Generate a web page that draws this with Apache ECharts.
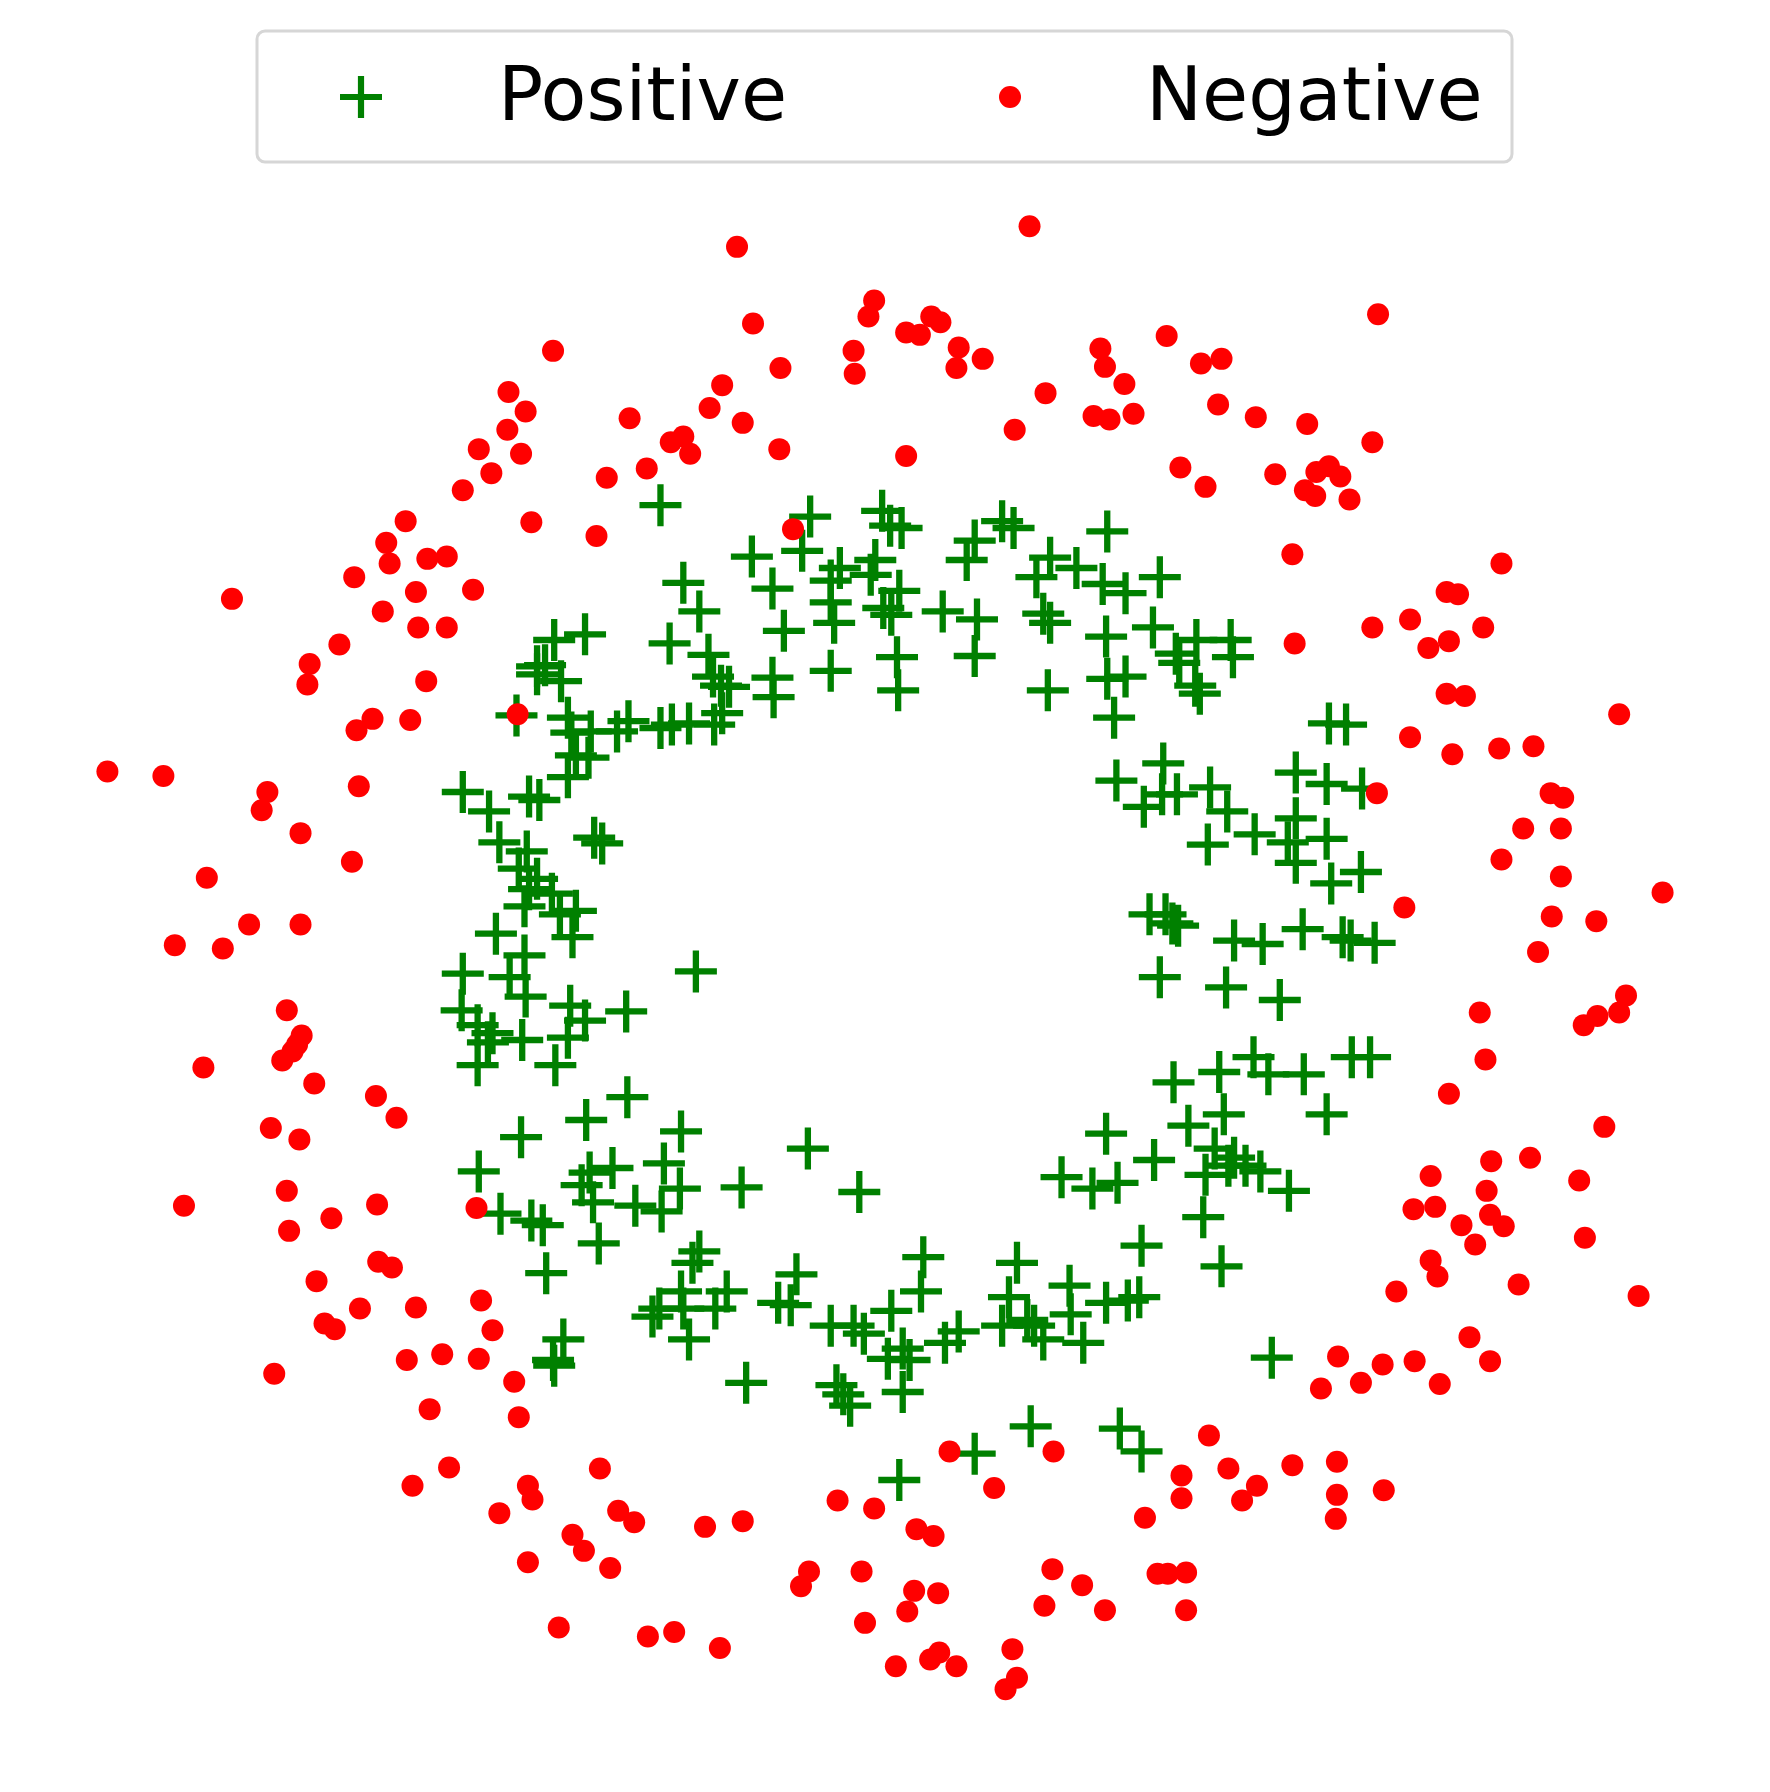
<!DOCTYPE html>
<html>
<head>
<meta charset="utf-8">
<script src="https://cdn.jsdelivr.net/npm/echarts@6/dist/echarts.min.js"></script>
<style>html,body{margin:0;padding:0;background:#fff}#c{width:1770px;height:1792px}</style>
</head>
<body>
<div id="c"></div>
<script>
// Data values (x grows right, y grows downward)
const seriesNames = ['Positive', 'Negative'];
const xRange = [0, 1549];
const yRange = [0, 1568];

const positive = [
[578,442],[709,452],[772,447],[779,460],[789,462],[877,456],[887,462],[969,465],[658,487],[702,482],
[735,497],[727,508],[766,490],[762,503],[846,490],[853,473],[919,488],[907,505],[942,497],[965,511],
[985,519],[1015,505],[598,510],[612,535],[676,515],[727,527],[730,545],[787,517],[773,532],[780,538],
[825,535],[855,542],[913,537],[919,545],[968,557],[1009,549],[1047,560],[1077,560],[1029,572],[1032,580],
[1079,575],[1046,600],[1050,607],[586,563],[620,573],[624,592],[631,600],[638,601],[676,593],[677,610],
[686,552],[727,587],[785,575],[786,604],[853,574],[917,604],[969,594],[985,592],[975,628],[512,555],
[485,560],[470,583],[491,596],[470,590],[477,582],[452,626],[497,628],[500,641],[517,640],[540,640],
[550,631],[578,637],[588,634],[603,633],[625,634],[632,624],[504,661],[515,663],[497,680],[1163,633],
[1178,634],[1018,668],[977,683],[1001,706],[1017,695],[1030,695],[1059,689],[1074,710],[1134,676],[1161,686],
[1192,690],[1057,739],[1098,730],[1134,716],[1127,737],[1161,734],[1134,755],[1165,773],[1191,763],[1006,800],
[1020,800],[1026,808],[1031,810],[1080,823],[1105,826],[1140,813],[1175,820],[1182,823],[1203,825],[1015,855],
[1073,864],[1120,875],[405,693],[428,710],[463,697],[472,700],[437,737],[461,745],[520,733],[527,738],
[454,760],[470,769],[463,778],[483,782],[459,793],[490,800],[504,797],[501,820],[434,817],[459,836],
[405,852],[446,855],[460,872],[404,884],[418,897],[431,904],[427,912],[457,910],[499,880],[512,893],
[497,908],[548,885],[609,850],[486,932],[418,932],[1027,947],[1067,938],[1097,925],[1110,940],[1141,940],
[1183,925],[1199,925],[1161,975],[968,992],[1010,1015],[1040,985],[1071,975],[1063,1005],[1080,1013],[1090,1020],
[1103,1025],[1128,1042],[1075,1020],[1055,1028],[1053,1065],[929,1030],[956,1040],[978,1035],[999,1090],[1069,1108],
[1113,1188],[456,995],[513,980],[549,960],[596,990],[419,1025],[516,1026],[536,1022],[581,1018],[595,1040],
[509,1037],[519,1052],[556,1055],[579,1060],[649,1039],[707,1005],[752,1043],[438,1062],[465,1068],[475,1072],
[524,1088],[478,1114],[612,1095],[606,1105],[636,1130],[596,1130],[577,1145],[571,1152],[598,1145],[626,1145],
[697,1115],[681,1140],[692,1142],[727,1160],[747,1160],[756,1167],[780,1147],[808,1100],[806,1130],[839,1165],
[827,1175],[790,1180],[796,1190],[777,1189],[890,1105],[883,1135],[877,1160],[899,1155],[905,1160],[913,1172],
[936,1125],[937,1150],[968,1140],[987,1138],[997,1135],[948,1175],[603,1172],[493,1172],[484,1190],[485,1195],
[653,1210],[732,1212],[738,1220],[744,1230],[790,1218],[902,1248],[980,1250],[999,1270],[853,1272],[787,1295]
];

const negative = [
[645,216],[901,198],[1206,275],[659,283],[765,263],[760,277],[815,277],[823,282],[793,291],[805,293],
[747,307],[839,304],[860,314],[748,327],[837,322],[683,322],[484,307],[963,305],[967,321],[1021,294],
[1051,318],[1069,314],[984,336],[915,344],[632,337],[621,357],[650,370],[551,366],[445,343],[460,360],
[444,376],[419,393],[456,397],[430,414],[405,429],[587,387],[598,382],[604,397],[566,410],[531,418],
[682,393],[793,399],[888,376],[957,364],[971,367],[992,362],[1066,354],[1099,365],[1144,371],[1201,387],
[1033,409],[1055,426],[1116,415],[1152,413],[1163,408],[1173,417],[1142,429],[1151,434],[1181,437],[1131,485],
[694,463],[522,469],[465,457],[355,456],[338,475],[341,493],[374,489],[391,487],[414,516],[310,505],
[364,518],[335,535],[366,549],[391,549],[203,524],[297,564],[271,581],[269,599],[373,596],[326,629],
[359,630],[312,639],[453,625],[1133,563],[1314,493],[1266,518],[1276,520],[1234,542],[1201,549],[1298,549],
[1250,567],[1268,561],[1266,607],[1282,609],[1417,625],[1234,645],[1271,660],[1312,655],[1342,653],[1205,694],
[1357,694],[1368,698],[1333,725],[1366,725],[1314,752],[1366,767],[1455,781],[1229,794],[1358,802],[1397,806],
[1346,833],[94,675],[143,679],[234,693],[229,709],[314,688],[263,729],[308,754],[181,768],[153,827],
[195,830],[218,809],[263,809],[251,884],[264,906],[260,914],[256,920],[247,928],[178,934],[275,948],
[329,959],[347,978],[237,987],[262,997],[251,1042],[330,1054],[161,1055],[253,1077],[290,1066],[331,1104],
[343,1109],[277,1121],[364,1144],[421,1138],[315,1145],[284,1158],[293,1163],[431,1164],[356,1190],[387,1185],
[419,1189],[240,1202],[450,1209],[376,1233],[454,1240],[417,1057],[1295,886],[1423,871],[1417,886],[1398,889],
[1386,897],[1300,927],[1268,957],[1404,986],[1305,1016],[1339,1013],[1252,1029],[1382,1033],[1301,1042],[1237,1058],
[1256,1056],[1304,1063],[1316,1073],[1279,1072],[1291,1089],[1387,1083],[1252,1103],[1258,1117],[1222,1130],[1329,1124],
[1434,1134],[1286,1170],[1171,1187],[1304,1191],[1260,1211],[1238,1191],[1210,1194],[1191,1210],[1156,1215],[922,1270],
[831,1270],[870,1302],[1058,1256],[1131,1282],[1170,1279],[1075,1285],[1034,1291],[1100,1300],[1170,1308],[1211,1304],
[1087,1313],[1034,1311],[1002,1328],[1169,1329],[393,1284],[361,1300],[525,1285],[462,1300],[466,1312],[437,1324],
[541,1322],[555,1332],[617,1336],[650,1331],[733,1313],[765,1320],[802,1338],[817,1344],[501,1343],[511,1357],
[462,1367],[534,1372],[708,1375],[701,1388],[754,1375],[800,1392],[821,1394],[921,1373],[947,1387],[1013,1377],
[1022,1377],[1038,1376],[914,1405],[967,1409],[1038,1409],[794,1410],[757,1420],[489,1424],[567,1432],[590,1428],
[630,1442],[784,1458],[814,1452],[822,1446],[837,1458],[886,1443],[890,1468],[880,1478]
];

const GREEN = '#008000', RED = '#ff0000';
const plusPath = 'path://M-1.5,-10L1.5,-10L1.5,-1.5L10,-1.5L10,1.5L1.5,1.5L1.5,10L-1.5,10L-1.5,1.5L-10,1.5L-10,-1.5L-1.5,-1.5Z';

const chart = echarts.init(document.getElementById('c'));
const fontFam = '"DejaVu Sans", sans-serif';
const h = 3.1, a = 21;
chart.setOption({
  animation: false,
  backgroundColor: '#ffffff',
  grid: {left: 0, right: 0, top: 0, bottom: 0},
  xAxis: {type: 'value', min: xRange[0], max: xRange[1], show: false},
  yAxis: {type: 'value', min: yRange[0], max: yRange[1], inverse: true, show: false},
  series: [
    {name: seriesNames[0], type: 'scatter', data: positive, symbol: plusPath, symbolSize: 42,
     itemStyle: {color: GREEN, opacity: 1}, z: 2},
    {name: seriesNames[1], type: 'scatter', data: negative, symbol: 'circle', symbolSize: 22,
     itemStyle: {color: RED, opacity: 1}, z: 3}
  ],
  graphic: [
    {type: 'rect', x: 257, y: 31, z: 10,
     shape: {x: 0, y: 0, width: 1255, height: 131, r: 8},
     style: {fill: 'rgba(255,255,255,0.8)', stroke: '#d6d6d6', lineWidth: 3}},
    {type: 'polygon', z: 11, x: 361, y: 97,
     shape: {points: [[-a,-h],[-h,-h],[-h,-a],[h,-a],[h,-h],[a,-h],[a,h],[h,h],[h,a],[-h,a],[-h,h],[-a,h]]},
     style: {fill: GREEN}},
    {type: 'text', z: 11, x: 498, y: 101,
     style: {text: seriesNames[0], font: '75px ' + fontFam, fill: '#000', verticalAlign: 'middle', align: 'left'}},
    {type: 'circle', z: 11, shape: {cx: 1010, cy: 97, r: 11}, style: {fill: RED}},
    {type: 'text', z: 11, x: 1146, y: 101,
     style: {text: seriesNames[1], font: '75px ' + fontFam, fill: '#000', verticalAlign: 'middle', align: 'left'}}
  ]
});
</script>
</body>
</html>
